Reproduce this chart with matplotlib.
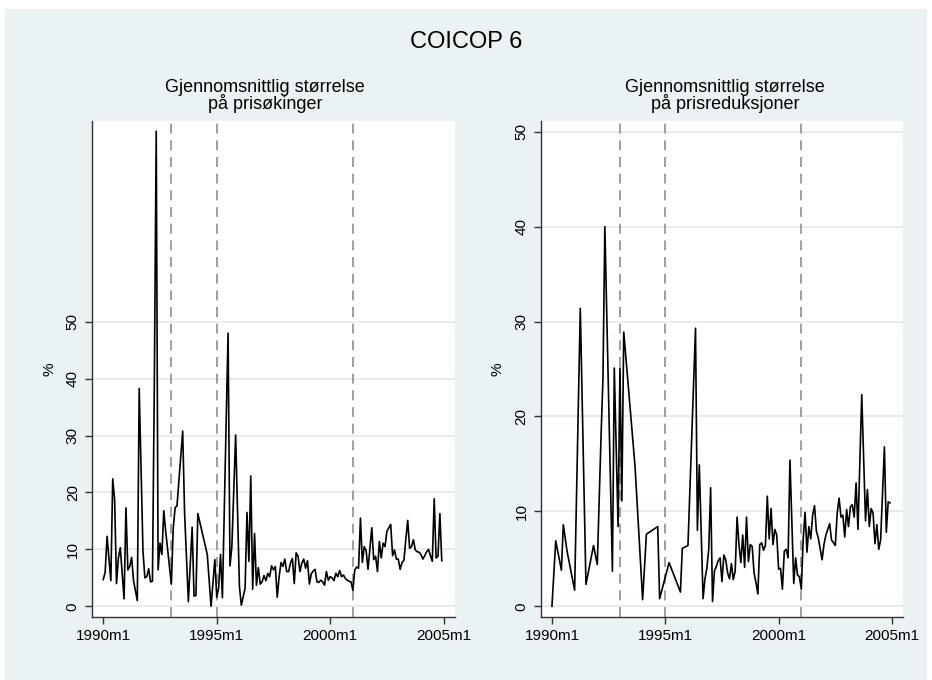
import numpy as np
import matplotlib.pyplot as plt
from matplotlib.patches import Rectangle

N = np.nan

# months since 1990m1
months = np.arange(180)

# average size of price increases (%), missing months = nan
up_vals = [
    4.7, 6.0, 12.3, N, 4.5, 22.4, 18.7, 4.0, 8.5, 10.3,
    N, 1.3, 17.3, 6.4, 7.0, 8.6, 4.5, N, 1.0, 38.3,
    N, 9.7, 5.0, 5.2, 6.6, 4.3, 4.4, 39.0, 83.5, 6.4,
    11.1, 9.1, 16.8, 13.2, N, N, 3.9, 13.8, 17.3, 17.7,
    N, N, 30.8, 16.4, N, 0.8, N, 13.9, 1.8, 1.9,
    16.3, N, N, N, N, 9.1, N, 0.0, N, 8.2,
    1.6, 3.2, 9.1, 1.5, N, N, 48.0, 7.1, 10.5, N,
    30.1, N, 3.5, 0.2, 1.7, 3.2, 16.5, 7.9, 22.9, 3.0,
    12.8, 3.7, 6.8, 3.9, 4.3, 5.4, 4.5, 5.8, 5.2, 7.1,
    6.4, 7.0, 1.6, 5.2, 7.7, 7.0, 8.3, 6.1, 6.1, 7.6,
    8.4, 4.0, 9.4, 8.8, 6.1, 7.6, 8.3, 6.7, 8.0, 3.9,
    5.7, 6.2, 6.5, 4.3, 4.2, 4.6, 4.3, 3.7, 6.1, 4.6,
    5.2, 5.0, 4.5, 5.8, 5.2, 6.3, 5.2, 5.5, 4.9, 4.6,
    4.4, 4.3, 2.8, 6.4, 6.9, 6.7, 15.5, 7.7, 10.5, 9.8,
    6.5, N, 13.8, 8.2, 8.8, 6.1, 11.4, 8.5, 11.1, 10.5,
    13.2, N, 14.4, 8.9, 9.9, 8.3, 8.3, 6.5, 7.7, 8.1,
    11.8, 15.1, 10.2, 10.5, 11.7, 9.9, 9.6, 9.5, 9.1, 8.3,
    8.9, 9.6, 10.0, 8.9, 7.9, 18.9, 8.5, 8.8, 16.3, 8.0,
]

# average size of price reductions (%)
down_vals = [
    0.0, N, 6.9, N, N, 3.8, 8.6, N, 5.8, N,
    N, N, 1.7, N, N, 31.4, N, N, 2.3, N,
    N, N, 6.4, N, 4.4, N, 18.0, 24.0, 40.0, N,
    N, N, 3.7, 25.1, N, 8.4, 25.1, 11.1, 28.9, N,
    N, N, N, N, 14.7, N, N, N, 0.7, N,
    7.6, N, N, N, N, N, 8.4, 0.8, N, N,
    N, N, 4.6, N, N, N, N, N, 1.5, 6.1,
    N, N, 6.4, N, N, N, 29.3, 8.0, 14.9, N,
    0.8, 2.9, 4.0, 6.0, 12.5, 0.5, 3.7, 4.2, 4.8, 5.1,
    2.6, 5.4, 4.9, 3.5, 2.9, 4.5, 2.8, 3.7, 9.4, 6.5,
    4.6, 7.5, 4.1, 9.4, 4.7, 6.5, 6.3, 3.5, 2.5, 1.3,
    6.5, 6.7, 5.9, 6.4, 11.6, 7.1, 10.3, 6.5, 8.1, 7.5,
    3.9, 4.0, 1.8, 5.8, 6.0, 5.1, 15.4, N, 2.4, 5.1,
    3.3, 3.1, 1.8, 7.1, 9.9, 5.7, 8.4, 7.1, 9.6, 10.6,
    7.9, 7.2, N, 4.9, 6.5, 7.5, N, 8.7, 7.0, N,
    6.4, 9.8, 11.4, 9.4, 9.6, 7.3, 10.2, 8.4, 10.5, 10.7,
    9.4, 13.0, 8.1, N, 22.3, N, 9.0, 12.3, 8.4, 10.3,
    9.8, 6.6, 8.6, 6.0, 7.0, N, 16.8, 7.8, 11.0, 10.9,
]

event_months = [36, 60, 132]          # 1993m1, 1995m1, 2001m1
xtick_pos = [0, 60, 120, 180]
xtick_lab = ["1990m1", "1995m1", "2000m1", "2005m1"]
ytick_pos = [0, 10, 20, 30, 40, 50]

titles = ["Gjennomsnittlig størrelse\npå prisøkinger",
          "Gjennomsnittlig størrelse\npå prisreduksjoner"]

bg = "#EAF2F3"
plt.rcParams["font.family"] = ["Liberation Sans", "DejaVu Sans"]

fig = plt.figure(figsize=(9.32, 6.8), dpi=100, facecolor="white")
fig.patches.append(Rectangle((5 / 932, 0), 922 / 932, 671 / 680,
                             transform=fig.transFigure, facecolor=bg,
                             edgecolor="none", zorder=-10))

ax1 = fig.add_axes([92.3 / 932, 1 - 617 / 680, 362.7 / 932, 496.3 / 680])
ax2 = fig.add_axes([541 / 932, 1 - 617 / 680, 362.3 / 932, 496.3 / 680])

for ax, vals, ylim, sx in [(ax1, up_vals, (-1.88, 85.34), 265),
                           (ax2, down_vals, (-1.13, 51.17), 725)]:
    v = np.array(vals)
    ok = ~np.isnan(v)
    ax.set_facecolor("white")
    for m in event_months:
        ax.axvline(m, color="#8f8f8f", lw=1.2, ls=(0, (6, 4)), zorder=2)
    ax.plot(months[ok], v[ok], color="black", lw=1.2, zorder=3)
    ax.set_xlim(-5.8, 186)
    ax.set_ylim(*ylim)
    ax.set_xticks(xtick_pos)
    ax.set_xticklabels(xtick_lab)
    ax.set_yticks(ytick_pos)
    ax.set_yticklabels([str(t) for t in ytick_pos], rotation=90, va="center")
    ax.grid(axis="y", color="#E4ECEF", lw=1.3, zorder=1)
    ax.set_axisbelow(True)
    for s in ["top", "right"]:
        ax.spines[s].set_visible(False)
    for s in ["left", "bottom"]:
        ax.spines[s].set_color("#333333")
        ax.spines[s].set_linewidth(1.0)
    ax.tick_params(axis="both", length=5, width=1.0, color="#333333",
                   labelsize=11, pad=4)
    ax.set_ylabel("%", fontsize=11)
    ax.yaxis.set_label_coords(-0.1, 0.5)
    fig.text(sx / 932, 1 - 96 / 680, titles[ax is ax2], ha="center",
             va="center", fontsize=13, linespacing=0.9)

fig.text(466 / 932, 1 - 42 / 680, "COICOP 6", ha="center", va="center",
         fontsize=17)

fig.savefig("out.png", dpi=100, facecolor=fig.get_facecolor())
